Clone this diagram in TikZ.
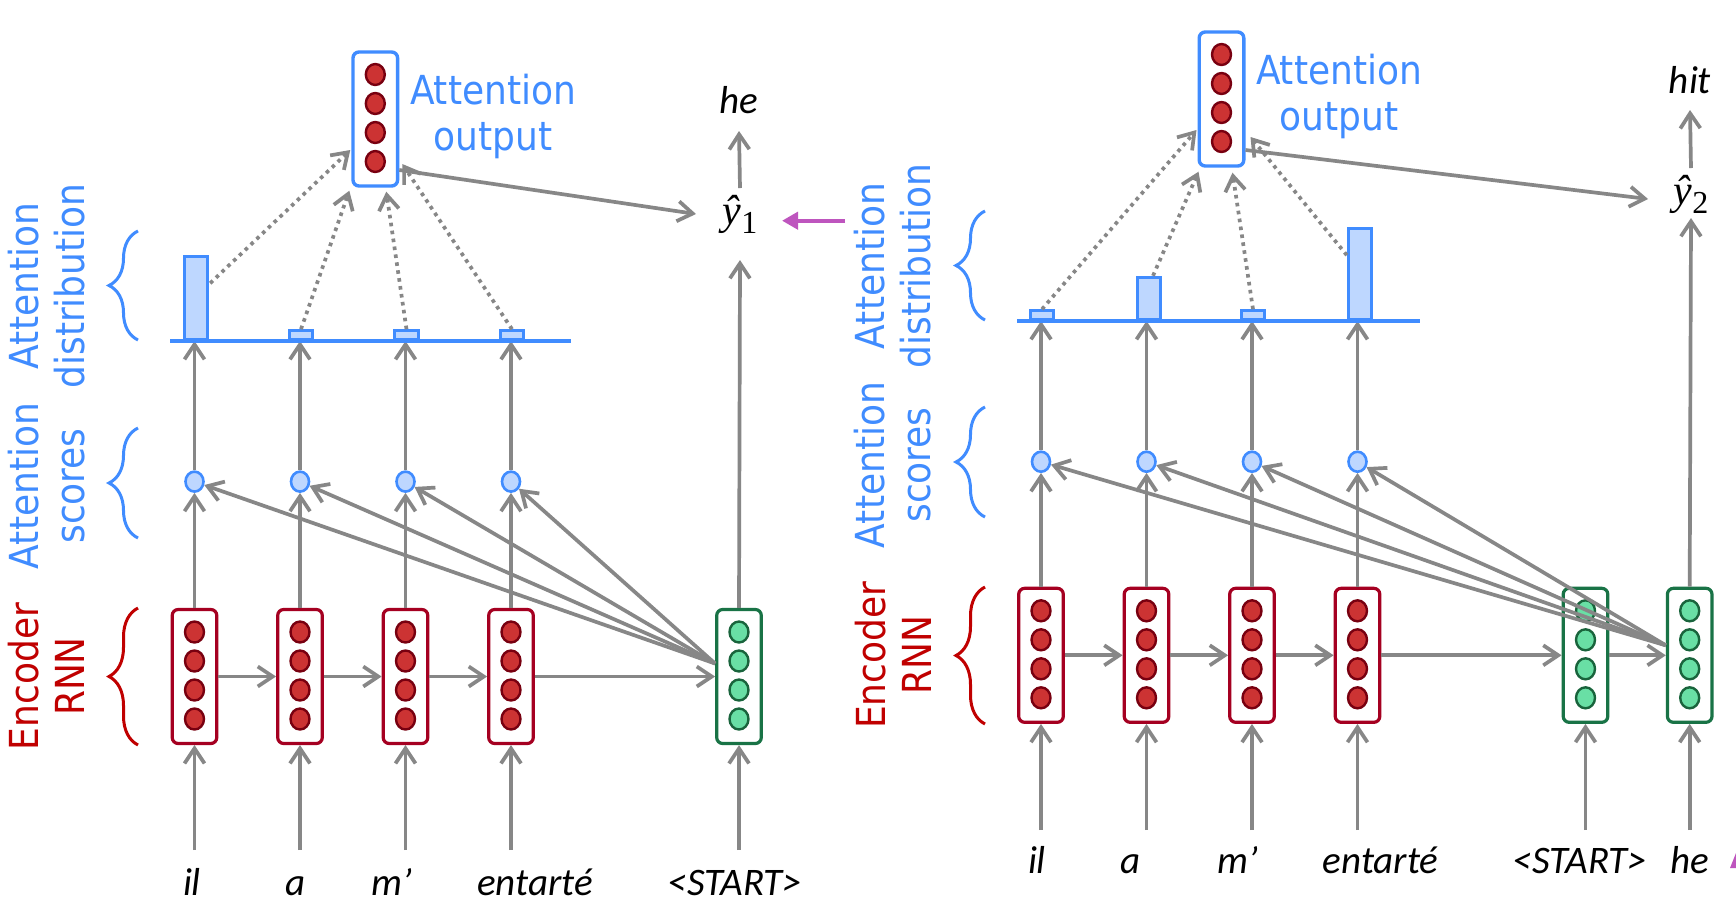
\documentclass[tikz,border=0pt]{standalone}
\usepackage{fontspec}
\newfontfamily\labfont{DejaVu Sans Condensed}
\newfontfamily\wordfont{Carlito}
\newfontfamily\serfont{Liberation Serif}
\usetikzlibrary{arrows.meta,shapes.geometric,decorations.pathreplacing,calc}
\definecolor{agray}{RGB}{135,135,135}
\definecolor{ablue}{RGB}{64,140,255}
\definecolor{lblue}{RGB}{190,215,255}
\definecolor{redbox}{RGB}{165,0,33}
\definecolor{redfill}{RGB}{204,51,51}
\definecolor{redline}{RGB}{120,0,16}
\definecolor{grbox}{RGB}{25,115,70}
\definecolor{grfill}{RGB}{105,223,165}
\definecolor{grline}{RGB}{25,100,60}
\definecolor{tred}{RGB}{192,0,0}
\definecolor{magc}{RGB}{190,85,190}
\newcommand{\vecbox}[5]{%
  \node[#4] (#1) at (#2,#3) {};
  \foreach \k/\dy in {1/-44.5,2/-15.5,3/13.5,4/42.5}
    \node[#5] (#1c\k) at (#2,{#3+\dy}) {};
}
\newcommand{\yhatsym}[1]{{\serfont\fontsize{21}{24}\selectfont\textit{ŷ}\raisebox{-4.5pt}{\fontsize{16}{18}\selectfont #1}}}
\begin{document}
\begin{tikzpicture}[x=0.5pt,y=-0.5pt,
  arr/.style={draw=agray, line width=1.85pt, -{Straight Barb[length=7.5pt,width=10pt]}},
  dotarr/.style={arr, dash pattern=on 1.8pt off 2.2pt},
  magarr/.style={draw=magc, line width=2.2pt, -{Triangle[length=8pt,width=8.5pt]}},
  boxbase/.style={rectangle, rounded corners=3pt, line width=1.6pt, minimum width=22.3pt, minimum height=67pt, inner sep=0pt, fill=white},
  encbox/.style={boxbase, draw=redbox},
  decbox/.style={boxbase, draw=grbox},
  outbox/.style={boxbase, draw=ablue, line width=1.7pt},
  redc/.style={ellipse, draw=redline, fill=redfill, line width=1.2pt, minimum width=9.5pt, minimum height=10.5pt, inner sep=0pt},
  greenc/.style={ellipse, draw=grline, fill=grfill, line width=1.2pt, minimum width=9.5pt, minimum height=10.5pt, inner sep=0pt},
  score/.style={ellipse, draw=ablue, fill=lblue, line width=1.3pt, minimum width=9pt, minimum height=10pt, inner sep=0pt},
  bar/.style={rectangle, draw=ablue, fill=lblue, line width=1.4pt, minimum width=11.8pt, inner sep=0pt, anchor=south},
  baseln/.style={draw=ablue, line width=1.7pt},
  lab/.style={font=\labfont\fontsize{20}{23}\selectfont, align=center, inner sep=0pt},
  word/.style={font=\wordfont\itshape\fontsize{19.5}{22}\selectfont, inner sep=0pt, anchor=base},
  yhat/.style={inner sep=0pt},
  bluebrace/.style={draw=ablue, line width=1.5pt, decorate, decoration={brace, amplitude=14.5pt}},
  redbrace/.style={draw=tred, line width=1.5pt, decorate, decoration={brace, amplitude=14.5pt}}
]
\fill[white] (0,0) rectangle (1736,912);
\useasboundingbox (0,0) rectangle (1736,912);

%================ LEFT PANEL ================
\vecbox{L1}{194.5}{676.5}{encbox}{redc}
\vecbox{L2}{300}{676.5}{encbox}{redc}
\vecbox{L3}{405.5}{676.5}{encbox}{redc}
\vecbox{L4}{511}{676.5}{encbox}{redc}
\vecbox{LS}{739}{676.5}{decbox}{greenc}
\vecbox{LO}{375.3}{119}{outbox}{redc}

\node[score] (Ls1) at (194.5,481.6) {};
\node[score] (Ls2) at (300,481.6) {};
\node[score] (Ls3) at (405.5,481.6) {};
\node[score] (Ls4) at (511,481.6) {};

\coordinate (Lb0) at (170,341);
\coordinate (Lb1) at (571,341);

% words
\node[word] (Lw1) at (192,895) {il};
\node[word] (Lw2) at (296,895) {a};
\node[word] (Lw3) at (392,895) {m’};
\node[word] (Lw4) at (535,895) {entarté};
\node[word] (Lw5) at (735,895) {<START>};
\node[word] (Lhe) at (739,113) {he};
\node[yhat] (Lyh) at (740,214) {\yhatsym{1}};

% input arrows
\foreach \i/\x in {1/194.5,2/300,3/405.5,4/511,S/739}{
  \coordinate (Lin\i) at (\x,850);
}
\draw[arr] (Lin1) -- (L1.south);
\draw[arr] (Lin2) -- (L2.south);
\draw[arr] (Lin3) -- (L3.south);
\draw[arr] (Lin4) -- (L4.south);
\draw[arr] (LinS) -- (LS.south);

% encoder chain
\draw[arr] (L1.east) -- (L2.west);
\draw[arr] (L2.east) -- (L3.west);
\draw[arr] (L3.east) -- (L4.west);
\draw[arr] (L4.east) -- (LS.west);

% up to scores and distribution
\foreach \i in {1,2,3,4}{
  \draw[arr] (L\i.north) -- (Ls\i);
  \draw[arr] (Ls\i) -- (Ls\i |- Lb0);
}
% attention score arrows from decoder state
\coordinate (Lc) at ($(LS.west)+(0,-13)$);
\foreach \i in {1,2,3,4}{ \draw[arr] (Lc) -- (Ls\i); }

% distribution
\draw[baseln] (Lb0) -- (Lb1);
\node[bar, minimum height=41.5pt] (Lbar1) at (196,341) {};
\node[bar, minimum height=4.5pt] (Lbar2) at (301,341) {};
\node[bar, minimum height=4.5pt] (Lbar3) at (406.5,341) {};
\node[bar, minimum height=4.5pt] (Lbar4) at (512,341) {};

% dotted to output
\draw[dotarr] ($(Lbar1.north east)+(1,28)$) -- ($(LO.west)+(-1,31)$);
\draw[dotarr] (Lbar2.north) -- ($(LO.south west)+(-2,3)$);
\draw[dotarr] (Lbar3.north) -- ($(LO.south)+(11,4)$);
\draw[dotarr] (Lbar4.north) -- ($(LO.east)+(3,45)$);

% output to prediction
\draw[arr] ($(LO.east)+(0,51)$) -- ($(Lyh.center)+(-44,0)$);
\draw[arr] (LS.north) -- ($(Lyh.center)+(0,46)$);
\draw[arr] ($(Lyh.center)+(0,-26)$) -- ($(Lhe.base)+(0,18)$);
\coordinate (Lm) at (845,220.7);
\draw[magarr] (Lm) -- ($(Lyh.center)+(42,6.7)$);

% labels
\node[lab, text=ablue] (Lol) at (493,116) {Attention\\output};
\node[lab, text=tred, rotate=90] (Lenc) at (46.5,676.5) {Encoder\\RNN};
\node[lab, text=ablue, rotate=90] (Lsc) at (46.5,486) {Attention\\scores};
\node[lab, text=ablue, rotate=90] (Ldi) at (46.5,286) {Attention\\distribution};
\draw[redbrace] (138,745) -- (138,608);
\draw[bluebrace] (138,538) -- (138,428);
\draw[bluebrace] (138,340) -- (138,231);

%================ RIGHT PANEL ================
\vecbox{R1}{1041}{655.3}{encbox}{redc}
\vecbox{R2}{1146.5}{655.3}{encbox}{redc}
\vecbox{R3}{1252}{655.3}{encbox}{redc}
\vecbox{R4}{1357.5}{655.3}{encbox}{redc}
\vecbox{RS}{1585.5}{655.3}{decbox}{greenc}
\vecbox{RH}{1689.7}{655.3}{decbox}{greenc}
\vecbox{RO}{1221.5}{99}{outbox}{redc}

\node[score] (Rs1) at (1041,461.7) {};
\node[score] (Rs2) at (1146.5,461.7) {};
\node[score] (Rs3) at (1252,461.7) {};
\node[score] (Rs4) at (1357.5,461.7) {};

\coordinate (Rb0) at (1017,321);
\coordinate (Rb1) at (1420,321);

\node[word] (Rw1) at (1037,873) {il};
\node[word] (Rw2) at (1131,873) {a};
\node[word] (Rw3) at (1237.5,873) {m’};
\node[word] (Rw4) at (1380.5,873) {entarté};
\node[word] (Rw5) at (1580,873) {<START>};
\node[word] (Rw6) at (1690,873) {he};
\node[word] (Rhit) at (1690,93) {hit};
\node[yhat] (Ryh) at (1691,194) {\yhatsym{2}};

\foreach \i/\x in {1/1041,2/1146.5,3/1252,4/1357.5,S/1585.5,H/1689.7}{
  \coordinate (Rin\i) at (\x,830);
}
\draw[arr] (Rin1) -- (R1.south);
\draw[arr] (Rin2) -- (R2.south);
\draw[arr] (Rin3) -- (R3.south);
\draw[arr] (Rin4) -- (R4.south);
\draw[arr] (RinS) -- (RS.south);
\draw[arr] (RinH) -- (RH.south);

\draw[arr] (R1.east) -- (R2.west);
\draw[arr] (R2.east) -- (R3.west);
\draw[arr] (R3.east) -- (R4.west);
\draw[arr] (R4.east) -- (RS.west);
\draw[arr] (RS.east) -- (RH.west);

\foreach \i in {1,2,3,4}{
  \draw[arr] (R\i.north) -- (Rs\i);
  \draw[arr] (Rs\i) -- (Rs\i |- Rb0);
}
\coordinate (Rc) at ($(RH.west)+(0,-10)$);
\foreach \i in {1,2,3,4}{ \draw[arr] (Rc) -- (Rs\i); }

\draw[baseln] (Rb0) -- (Rb1);
\node[bar, minimum height=4.5pt] (Rbar1) at (1042,321) {};
\node[bar, minimum height=21.2pt] (Rbar2) at (1149,321) {};
\node[bar, minimum height=4.5pt] (Rbar3) at (1253,321) {};
\node[bar, minimum height=45.5pt] (Rbar4) at (1360,321) {};

\draw[dotarr] (Rbar1.north) -- ($(RO.west)+(-1,31)$);
\draw[dotarr] ($(Rbar2.north)+(4,0)$) -- ($(RO.south west)+(1,4)$);
\draw[dotarr] (Rbar3.north) -- ($(RO.south)+(11,5)$);
\draw[dotarr] ($(Rbar4.north west)+(0,28)$) -- ($(RO.east)+(5,38)$);

\draw[arr] ($(RO.east)+(0,51)$) -- ($(Ryh.center)+(-43,5)$);
\draw[arr] (RH.north) -- ($(Ryh.center)+(0,24)$);
\draw[arr] ($(Ryh.center)+(0,-26)$) -- ($(Rhit.base)+(0,17)$);

\node[lab, text=ablue] (Rol) at (1339,96) {Attention\\output};
\node[lab, text=tred, rotate=90] (Renc) at (893,655.3) {Encoder\\RNN};
\node[lab, text=ablue, rotate=90] (Rsc) at (893,465) {Attention\\scores};
\node[lab, text=ablue, rotate=90] (Rdi) at (893,266) {Attention\\distribution};
\draw[redbrace] (985,724) -- (985,587);
\draw[bluebrace] (985,517) -- (985,407);
\draw[bluebrace] (985,320) -- (985,211);

% partial magenta arrow tip at the right edge
\fill[magc] (1730,868) -- (1736,853) -- (1736,868) -- cycle;
\end{tikzpicture}
\end{document}
